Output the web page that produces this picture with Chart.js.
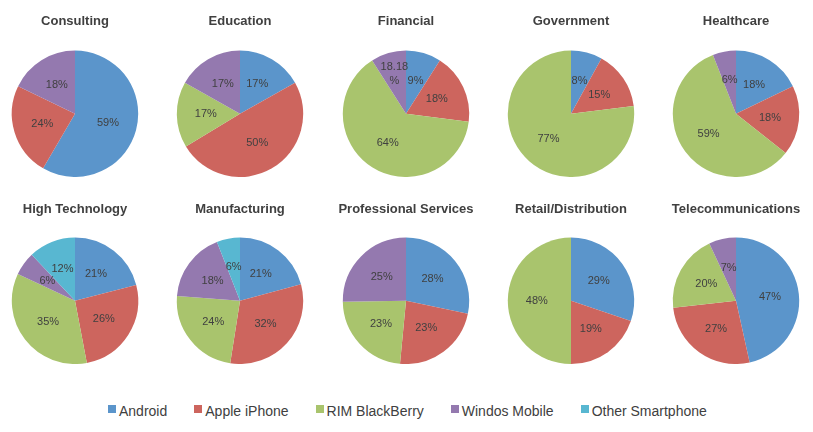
<!DOCTYPE html>
<html>
<head>
<meta charset="utf-8">
<script src="https://cdn.jsdelivr.net/npm/chart.js@4/dist/chart.umd.min.js"></script>
<style>
  body { margin: 0; background: #fff; width: 813px; height: 432px; position: relative; overflow: hidden; font-family: "Liberation Sans", Arial, sans-serif; }
  canvas { position: absolute; }
  #legend { position: absolute; left: 108px; top: 402px; height: 18px; display: flex; font-size: 14px; color: #404040; }
  #legend .item { display: flex; align-items: center; margin-right: 27px; }
  #legend .box { width: 8px; height: 8px; margin-right: 3px; margin-top: -4px; }
</style>
</head>
<body>
<div id="legend"></div>
<script>
// data
var sectors = ['Consulting', 'Education', 'Financial', 'Government', 'Healthcare',
               'High Technology', 'Manufacturing', 'Professional Services', 'Retail/Distribution', 'Telecommunications'];
var categories = ['Android', 'Apple iPhone', 'RIM BlackBerry', 'Windos Mobile', 'Other Smartphone'];
var android    = [59, 17,  9,  8, 18, 21, 21, 28, 29, 47];
var iphone     = [24, 50, 18, 15, 18, 26, 32, 23, 19, 27];
var blackberry = [ 0, 17, 64, 77, 59, 35, 24, 23, 48, 20];
var windows    = [18, 17,  9,  0,  6,  6, 18, 25,  0,  7];
var other      = [ 0,  0,  0,  0,  0, 12,  6,  0,  0,  0];
// the odd label in the Financial pie
var labelOverrides = { 'Financial': { 3: { text: ['18.18', '%'], r: 0.66 } } };

var colors = ['#5b95cb', '#cd655e', '#a9c46d', '#9479af', '#58b7d1'];
var colCenters = [75, 240, 405.5, 571, 736];

Chart.defaults.font.family = '"Liberation Sans", Arial, sans-serif';

// draws the % labels inside the slices
var sliceLabels = {
    id: 'sliceLabels',
    afterDatasetsDraw: function(chart) {
        var ctx = chart.ctx;
        var meta = chart.getDatasetMeta(0);
        var ds = chart.data.datasets[0];
        var over = labelOverrides[chart.options.plugins.title.text] || {};
        ctx.save();
        ctx.font = '11px "Liberation Sans", Arial, sans-serif';
        ctx.fillStyle = '#404040';
        ctx.textAlign = 'center';
        ctx.textBaseline = 'middle';
        meta.data.forEach(function(arc, i) {
            if (!ds.data[i]) return;
            var o = over[i] || {};
            var mid = (arc.startAngle + arc.endAngle) / 2;
            var r = arc.outerRadius * (o.r || 0.54);
            var x = arc.x + Math.cos(mid) * r;
            var y = arc.y + Math.sin(mid) * r;
            var txt = o.text || [ds.data[i] + '%'];
            txt.forEach(function(t, k) {
                ctx.fillText(t, x, y + (k - (txt.length - 1) / 2) * 14);
            });
        });
        ctx.restore();
    }
};

sectors.forEach(function(name, i) {
    var row = Math.floor(i / 5);
    var col = i % 5;
    var cv = document.createElement('canvas');
    var h = row === 0 ? 177 : 174;
    cv.width = 160;
    cv.height = h;
    cv.style.left = (colCenters[col] - 80) + 'px';
    cv.style.top = (row === 0 ? 0 : 190) + 'px';
    document.body.appendChild(cv);
    new Chart(cv.getContext('2d'), {
        type: 'pie',
        data: {
            labels: categories,
            datasets: [{
                data: [android[i], iphone[i], blackberry[i], windows[i], other[i]],
                backgroundColor: colors,
                borderWidth: 0
            }]
        },
        options: {
            responsive: false,
            animation: false,
            layout: { padding: 0 },
            plugins: {
                legend: { display: false },
                tooltip: { enabled: false },
                title: {
                    display: true,
                    text: name,
                    color: '#404040',
                    font: { size: 13, weight: 'bold', lineHeight: 1.2 },
                    padding: row === 0 ? { top: 14, bottom: 21 } : { top: 12, bottom: 20 }
                }
            }
        },
        plugins: [sliceLabels]
    });
});

// legend
var lg = document.getElementById('legend');
categories.forEach(function(c, i) {
    var it = document.createElement('div');
    it.className = 'item';
    it.innerHTML = '<span class="box" style="background:' + colors[i] + '"></span>' + c;
    lg.appendChild(it);
});
</script>
</body>
</html>
